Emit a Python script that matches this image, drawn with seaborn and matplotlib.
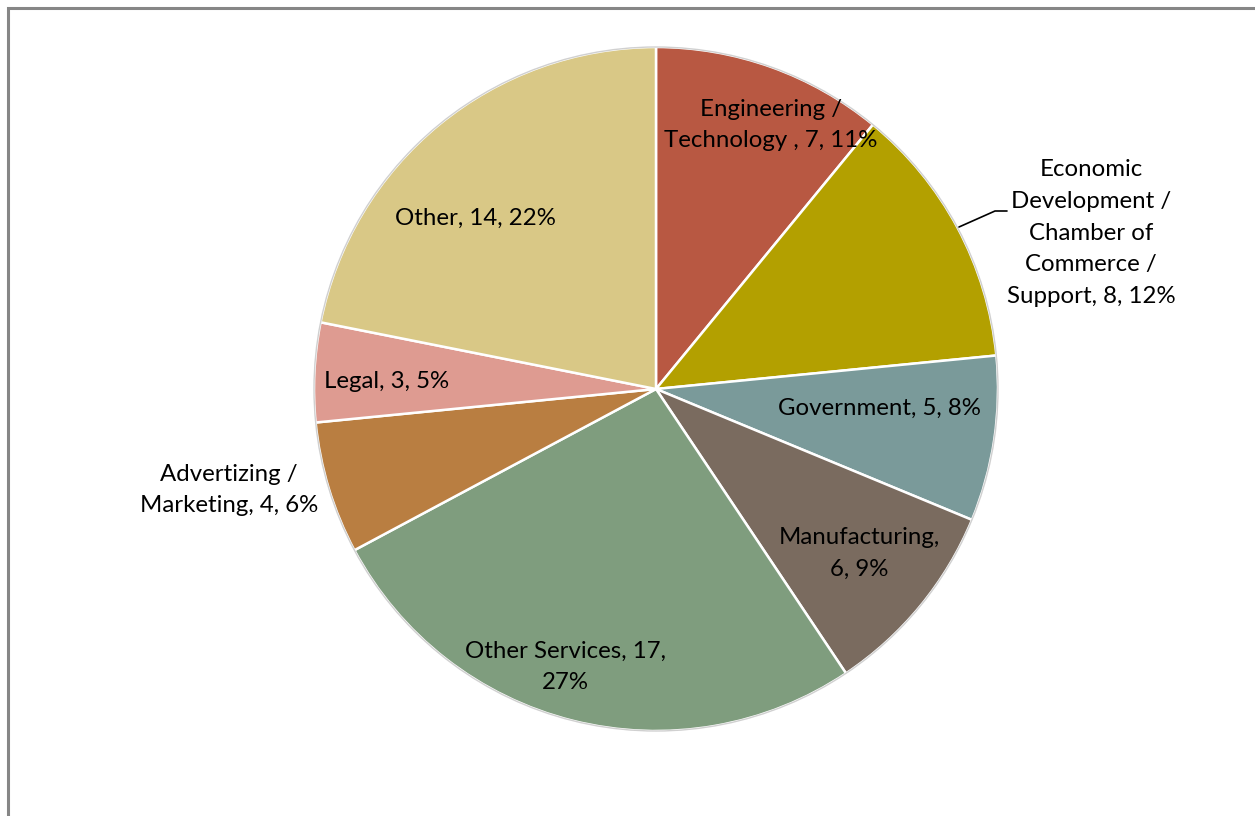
import matplotlib
matplotlib.use("Agg")
import matplotlib.pyplot as plt
import seaborn as sns
from matplotlib.patches import Rectangle

sns.set_theme(style="white")
plt.rcParams["font.family"] = ["Lato", "DejaVu Sans"]

# Sector breakdown
categories = ["Engineering /\nTechnology ", "Economic\nDevelopment /\nChamber of\nCommerce /\nSupport",
              "Government", "Manufacturing,\n", "Other Services, 17,\n",
              "Advertizing /\nMarketing", "Legal", "Other"]
counts = [7, 8, 5, 6, 17, 4, 3, 14]
colors = ["#B85842", "#B3A000", "#7A9A9A", "#7A6B5F", "#7F9D7E",
          "#B97E41", "#DE9B91", "#D9C886"]

# label anchor positions (in pie radius units)
label_xy = [(0.336, 0.772), (1.272, 0.456), (0.652, -0.058), (0.594, -0.480),
            (-0.266, -0.813), (-1.249, -0.295), (-0.789, 0.023), (-0.529, 0.500)]

W, H = 1255, 816
fig = plt.figure(figsize=(W / 100, H / 100), dpi=100)
fig.patch.set_facecolor("white")

# chart border (partly outside the canvas)
fig.patches.append(Rectangle((7.5 / W, -0.1), 1.2, 1 - 7.5 / H + 0.1,
                             transform=fig.transFigure, fill=False,
                             edgecolor="#868686", linewidth=2.2))

cx, cy, r = 656, 389, 342
ax = fig.add_axes([(cx - r) / W, (H - cy - r) / H, 2 * r / W, 2 * r / H])

wedges, _ = ax.pie(counts, colors=colors, startangle=90, counterclock=False,
                   radius=1.0,
                   wedgeprops=dict(edgecolor="white", linewidth=1.8))
ax.set_xlim(-1, 1)
ax.set_ylim(-1, 1)
ax.set_aspect("auto")
ax.axis("off")
for w in wedges:
    w.set_clip_on(False)

# faint outer rim
rim = plt.Circle((0, 0), 1.0, fill=False, edgecolor="#D0D0D0", linewidth=1.0,
                 clip_on=False)
ax.add_patch(rim)

total = sum(counts)
for name, n, (x, y) in zip(categories, counts, label_xy):
    pct = round(100 * n / total)
    if name.endswith("\n"):
        text = f"{name}{pct}%" if "17" in name else f"{name}{n}, {pct}%"
    else:
        text = f"{name}, {n}, {pct}%"
    ax.text(x, y, text, ha="center", va="center", fontsize=17.3,
            color="black", linespacing=1.62, clip_on=False)

# leader line for the economic development label
ax.plot([(959 - cx) / r, (995 - cx) / r, (1007 - cx) / r],
        [(cy - 227) / r, (cy - 211) / r, (cy - 211) / r],
        color="black", linewidth=1.2, clip_on=False)

fig.savefig("out.png", dpi=100)
